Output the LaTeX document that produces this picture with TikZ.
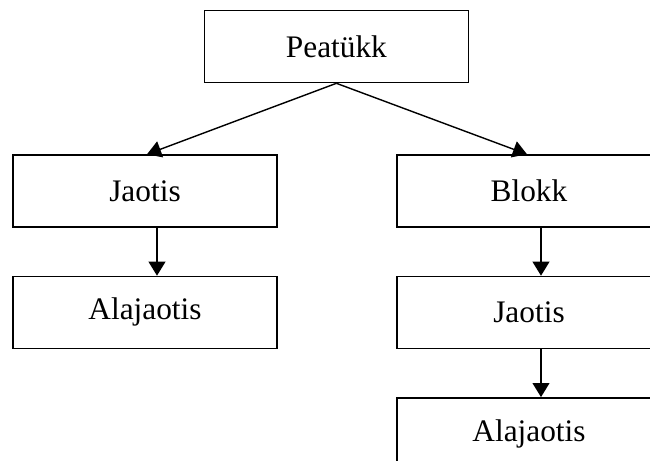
\documentclass[tikz,border=0pt]{standalone}
\usepackage{fontspec}
\setmainfont{Liberation Serif}
\usetikzlibrary{positioning,arrows.meta}
\begin{document}
\begin{tikzpicture}[
    font=\fontsize{22.3}{26}\selectfont,
    line width=1pt
  ]
\def\nw{6.6cm}

\tikzstyle{box}=[draw,minimum width=\nw,minimum height=1.8cm,inner sep=0pt,node distance=1.2cm];
\tikzstyle{arr}=[-{Triangle[width=12pt,length=10pt]}];

\useasboundingbox (0,0) rectangle (16.25,11.525);
\clip (0,0) rectangle (16.25,11.525);

\node[box] (peatukk) at (8.41,10.36) {Peatükk};

\node[box] (jaotis1) at (3.625,6.75) {Jaotis};
\node[box,below= of jaotis1] (alajaotis1) {Alajaotis};

\node[box] (blokk) at (13.225,6.75) {Blokk};
\node[box,below= of blokk] (jaotis2) {Jaotis};
\node[box,below= of jaotis2] (alajaotis2) {Alajaotis};

\draw[arr] (peatukk.south) -- ([xshift=0.05cm]jaotis1.north);
\draw[arr] (peatukk.south) -- ([xshift=-0.05cm]blokk.north);

\draw[arr] ([xshift=0.3cm]jaotis1.south) -- ([xshift=0.3cm]alajaotis1.north);
\draw[arr] ([xshift=0.3cm]blokk.south) -- ([xshift=0.3cm]jaotis2.north);
\draw[arr] ([xshift=0.3cm]jaotis2.south) -- ([xshift=0.3cm]alajaotis2.north);

\end{tikzpicture}
\end{document}
